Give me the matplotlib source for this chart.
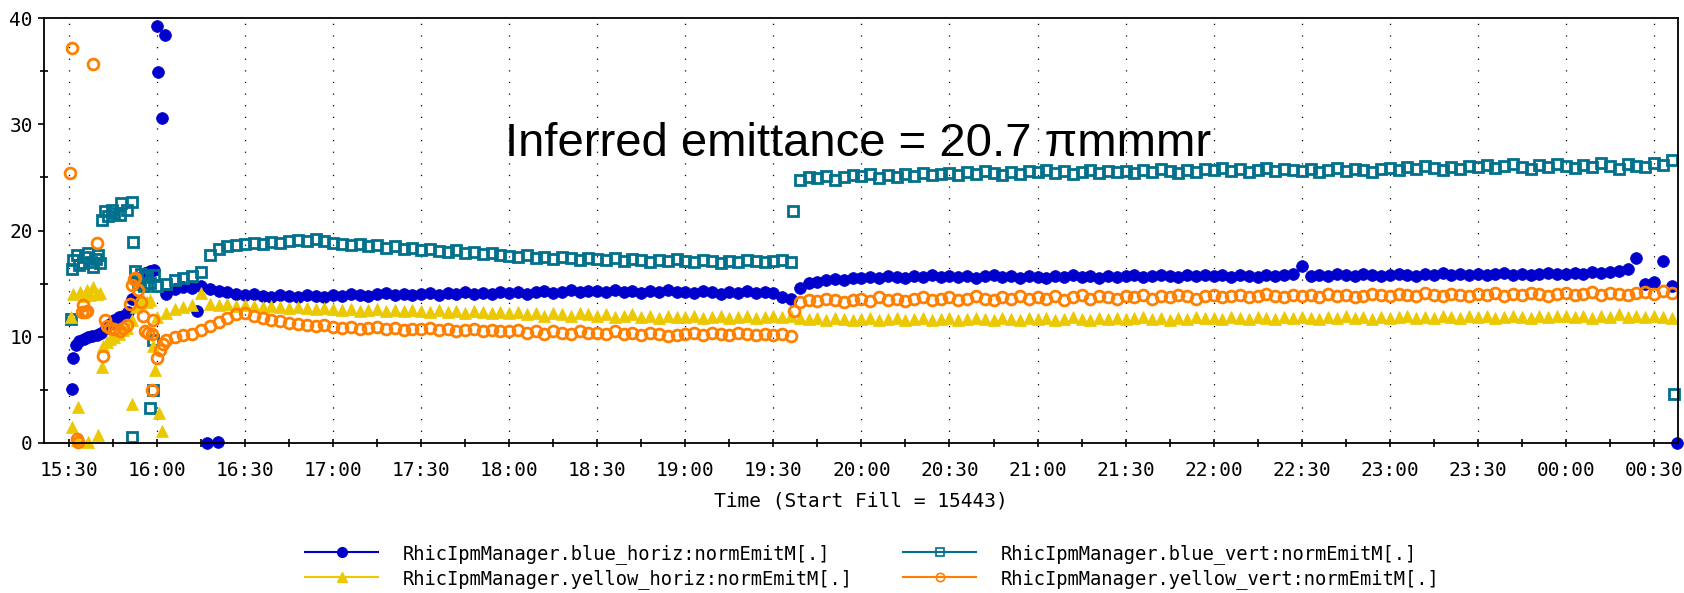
import matplotlib
matplotlib.use('Agg')
import matplotlib.pyplot as plt
from matplotlib.lines import Line2D
from matplotlib.ticker import MultipleLocator

# time axis in minutes after 15:30
tick_pos = [0, 30, 60, 90, 120, 150, 180, 210, 240, 270, 300, 330, 360, 390, 420, 450, 480, 510, 540]
tick_lab = ['15:30', '16:00', '16:30', '17:00', '17:30', '18:00', '18:30', '19:00', '19:30', '20:00',
            '20:30', '21:00', '21:30', '22:00', '22:30', '23:00', '23:30', '00:00', '00:30']

# regular logging after 16:03
t_main = [33, 36, 39, 42, 45, 48, 51, 54, 57,
          60, 63, 66, 69, 72, 75, 78, 81, 84, 87,
          90, 93, 96, 99, 102, 105, 108, 111, 114, 117,
          120, 123, 126, 129, 132, 135, 138, 141, 144, 147,
          150, 153, 156, 159, 162, 165, 168, 171, 174, 177,
          180, 183, 186, 189, 192, 195, 198, 201, 204, 207,
          210, 213, 216, 219, 222, 225, 228, 231, 234, 237,
          240, 243, 246, 249, 252, 255, 258, 261, 264, 267,
          270, 273, 276, 279, 282, 285, 288, 291, 294, 297,
          300, 303, 306, 309, 312, 315, 318, 321, 324, 327,
          330, 333, 336, 339, 342, 345, 348, 351, 354, 357,
          360, 363, 366, 369, 372, 375, 378, 381, 384, 387,
          390, 393, 396, 399, 402, 405, 408, 411, 414, 417,
          420, 423, 426, 429, 432, 435, 438, 441, 444, 447,
          450, 453, 456, 459, 462, 465, 468, 471, 474, 477,
          480, 483, 486, 489, 492, 495, 498, 501, 504, 507,
          510, 513, 516, 519, 522, 525, 528, 531, 534, 537,
          540, 543, 546]

# blue horizontal
t_bh_x = [1.1, 1.5, 2.5, 3.5, 5.0, 6.5, 8.0, 9.5, 11.0, 12.5, 14.0, 15.5, 17.0, 18.5, 20.0,
          21.5, 23.0, 24.5, 26.0, 27.5, 29.0, 29.9, 30.4, 31.8, 32.7, 43.5, 46.9, 50.8, 548.0]
v_bh_x = [5.1, 8.0, 9.2, 9.6, 9.8, 10.0, 10.1, 10.2, 10.4, 10.8, 11.2, 11.6, 11.9, 12.0, 12.3,
          13.6, 15.3, 15.6, 16.0, 16.2, 16.3, 39.2, 34.9, 30.6, 38.4, 12.4, 0.0, 0.1, 0.0]
v_bh = [14.0, 14.5, 14.7, 14.6, 14.8, 14.5, 14.3, 14.2, 14.0,
        13.9, 14.0, 13.8, 13.7, 13.9, 13.8, 13.7, 13.9, 13.8, 13.7,
        13.9, 13.8, 14.0, 13.9, 13.8, 14.0, 14.1, 13.9, 14.0, 13.9,
        14.0, 14.1, 13.9, 14.1, 14.0, 14.2, 14.0, 14.1, 14.0, 14.2,
        14.1, 14.2, 14.0, 14.2, 14.3, 14.1, 14.2, 14.4, 14.2, 14.3,
        14.3, 14.2, 14.4, 14.2, 14.3, 14.1, 14.3, 14.2, 14.4, 14.2,
        14.2, 14.1, 14.3, 14.2, 14.0, 14.2, 14.1, 14.3, 14.1, 14.2,
        14.1, 13.7, 13.6, 14.6, 15.1, 15.2, 15.3, 15.4, 15.3, 15.5,
        15.5, 15.6, 15.5, 15.7, 15.6, 15.5, 15.7, 15.6, 15.8, 15.6,
        15.7, 15.6, 15.7, 15.5, 15.7, 15.8, 15.6, 15.7, 15.5, 15.7,
        15.6, 15.5, 15.7, 15.6, 15.8, 15.6, 15.7, 15.5, 15.7, 15.6,
        15.7, 15.8, 15.6, 15.7, 15.8, 15.7, 15.6, 15.8, 15.7, 15.8,
        15.7, 15.8, 15.6, 15.8, 15.7, 15.6, 15.8, 15.7, 15.8, 15.9,
        16.7, 15.7, 15.8, 15.7, 15.9, 15.8, 15.7, 15.9, 15.8, 15.7,
        15.8, 15.9, 15.8, 15.7, 15.9, 15.8, 16.0, 15.8, 15.9, 15.8,
        15.9, 15.8, 15.9, 16.0, 15.8, 15.9, 15.8, 15.9, 16.0, 15.9,
        15.9, 16.0, 15.9, 16.1, 16.0, 16.1, 16.2, 16.4, 17.4, 15.0,
        15.2, 17.1, 14.8]

# blue vertical
t_bv_x = [0.6, 0.9, 1.5, 2.6, 3.5, 4.9, 5.5, 6.6, 7.5, 8.3, 9.2, 10.0, 10.6, 11.1, 12.3,
          13.2, 14.5, 15.5, 17.4, 17.6, 19.7, 21.4, 21.9, 21.4, 22.5, 23.5, 24.5, 25.5, 26.5,
          27.5, 27.6, 28.7, 28.7, 29.0, 30.0, 246.8, 547.0]
v_bv_x = [11.7, 16.4, 17.2, 17.7, 16.8, 16.9, 17.5, 17.9, 17.0, 16.6, 17.3, 17.7, 16.9, 21.0, 21.8,
          21.4, 21.9, 21.6, 21.5, 22.6, 21.9, 22.7, 18.9, 0.6, 16.2, 15.0, 15.9, 14.8, 15.6,
          15.1, 3.3, 5.0, 9.7, 15.8, 14.8, 21.8, 4.6]
v_bv = [15.0, 15.3, 15.5, 15.7, 16.1, 17.7, 18.3, 18.5, 18.6,
        18.7, 18.8, 18.7, 18.9, 18.8, 19.0, 19.1, 19.0, 19.2, 19.0,
        18.8, 18.7, 18.6, 18.7, 18.5, 18.6, 18.4, 18.5, 18.3, 18.4,
        18.2, 18.3, 18.1, 18.0, 18.2, 17.9, 18.0, 17.8, 17.9, 17.7,
        17.6, 17.5, 17.7, 17.4, 17.5, 17.3, 17.5, 17.4, 17.2, 17.4,
        17.3, 17.2, 17.4, 17.1, 17.3, 17.2, 17.0, 17.2, 17.1, 17.3,
        17.1, 17.0, 17.2, 17.1, 16.9, 17.1, 17.0, 17.2, 17.1, 17.0,
        17.1, 17.2, 17.0, 24.8, 25.0, 24.9, 25.1, 24.8, 25.0, 25.2,
        25.1, 25.3, 24.9, 25.2, 25.0, 25.3, 25.1, 25.4, 25.2, 25.3,
        25.4, 25.2, 25.5, 25.3, 25.6, 25.4, 25.2, 25.5, 25.3, 25.6,
        25.5, 25.7, 25.4, 25.6, 25.3, 25.5, 25.7, 25.4, 25.6, 25.5,
        25.6, 25.4, 25.7, 25.5, 25.8, 25.6, 25.4, 25.7, 25.5, 25.8,
        25.7, 25.9, 25.6, 25.8, 25.5, 25.7, 25.9, 25.6, 25.8, 25.7,
        25.6, 25.8, 25.5, 25.7, 25.9, 25.6, 25.8, 25.7, 25.5, 25.8,
        25.9, 25.7, 26.0, 25.8, 26.1, 25.9, 25.7, 26.0, 25.8, 26.1,
        26.0, 26.2, 25.9, 26.1, 26.3, 26.0, 25.8, 26.2, 26.0, 26.3,
        26.1, 25.9, 26.2, 26.0, 26.4, 26.1, 25.8, 26.3, 26.1, 26.0,
        26.4, 26.2, 26.6]

# yellow horizontal
t_yh_x = [0.6, 1.2, 1.5, 2.8, 3.2, 3.7, 5.0, 6.0, 6.6, 7.2, 8.3, 9.4, 10.0, 10.6, 11.1,
          11.5, 12.8, 14.0, 15.5, 17.0, 18.5, 19.7, 21.4, 21.5, 23.0, 24.2, 25.3, 26.5, 27.6,
          28.8, 29.3, 29.9, 30.8, 31.6]
v_yh_x = [11.9, 1.5, 14.0, 0.3, 3.4, 14.2, 13.8, 14.4, 0.1, 13.9, 14.7, 14.0, 0.75, 14.1, 7.2,
          9.1, 9.5, 9.8, 10.0, 10.3, 10.6, 10.8, 3.7, 11.6, 12.8, 13.2, 13.5, 13.3, 13.5,
          9.1, 6.9, 11.9, 2.8, 1.1]
v_yh = [12.2, 12.6, 12.8, 13.0, 14.1, 13.1, 13.0, 13.1, 12.9,
        13.0, 12.9, 12.8, 12.9, 12.8, 12.7, 12.8, 12.7, 12.6, 12.7,
        12.6, 12.5, 12.6, 12.4, 12.5, 12.6, 12.4, 12.5, 12.4, 12.5,
        12.4, 12.3, 12.5, 12.3, 12.4, 12.2, 12.4, 12.3, 12.2, 12.3,
        12.2, 12.3, 12.1, 12.2, 12.0, 12.2, 12.1, 12.0, 12.2, 12.1,
        12.0, 12.1, 11.9, 12.0, 12.1, 11.9, 12.0, 11.8, 12.0, 11.9,
        11.9, 12.0, 11.8, 11.9, 12.0, 11.8, 11.9, 12.0, 11.8, 11.9,
        12.0, 11.9, 12.0, 11.8, 11.7, 11.8, 11.6, 11.8, 11.7, 11.6,
        11.7, 11.8, 11.6, 11.7, 11.8, 11.6, 11.7, 11.8, 11.6, 11.7,
        11.8, 11.6, 11.7, 11.8, 11.7, 11.6, 11.8, 11.7, 11.6, 11.8,
        11.7, 11.8, 11.6, 11.7, 11.9, 11.7, 11.6, 11.8, 11.7, 11.8,
        11.7, 11.8, 11.9, 11.7, 11.8, 11.6, 11.8, 11.7, 11.9, 11.8,
        11.8, 11.7, 11.9, 11.8, 11.7, 11.9, 11.8, 11.7, 11.9, 11.8,
        11.9, 11.8, 11.7, 11.9, 11.8, 12.0, 11.8, 11.9, 11.7, 11.9,
        11.8, 11.9, 12.0, 11.8, 11.9, 11.8, 12.0, 11.9, 11.8, 12.0,
        11.9, 12.0, 11.8, 11.9, 12.0, 11.9, 11.8, 12.0, 11.9, 12.0,
        12.0, 11.9, 12.0, 11.8, 12.0, 11.9, 12.1, 11.9, 12.0, 11.9,
        12.0, 11.9, 11.8]

# yellow vertical
t_yv_x = [0.3, 0.9, 2.6, 3.0, 4.3, 4.9, 5.6, 6.3, 8.3, 9.4, 11.7, 12.3, 13.0, 14.0, 15.5,
          17.4, 18.5, 19.7, 20.8, 21.4, 22.0, 22.5, 23.6, 24.4, 25.3, 25.8, 27.0, 28.2, 28.2,
          28.7, 29.9, 31.0, 32.0, 247.0]
v_yv_x = [25.4, 37.2, 0.4, 0.1, 12.3, 13.0, 12.3, 12.4, 35.7, 18.8, 8.2, 11.6, 11.0, 10.8, 10.7,
          10.5, 10.8, 11.1, 13.1, 14.9, 15.4, 15.5, 14.4, 13.3, 12.0, 10.5, 10.4, 10.3, 5.0,
          11.6, 8.0, 8.75, 9.3, 12.45]
v_yv = [9.7, 10.0, 10.2, 10.3, 10.6, 11.0, 11.4, 11.8, 12.1,
        12.2, 12.0, 11.8, 11.6, 11.5, 11.3, 11.2, 11.1, 11.0, 11.1,
        10.9, 10.8, 10.9, 10.7, 10.8, 10.9, 10.7, 10.8, 10.6, 10.7,
        10.7, 10.8, 10.6, 10.7, 10.5, 10.6, 10.7, 10.5, 10.6, 10.5,
        10.5, 10.6, 10.4, 10.5, 10.3, 10.5, 10.4, 10.3, 10.5, 10.4,
        10.4, 10.3, 10.5, 10.3, 10.4, 10.2, 10.4, 10.3, 10.1, 10.2,
        10.3, 10.4, 10.2, 10.4, 10.3, 10.2, 10.4, 10.3, 10.2, 10.3,
        10.2, 10.3, 10.1, 13.3, 13.5, 13.4, 13.6, 13.5, 13.3, 13.5,
        13.6, 13.4, 13.7, 13.5, 13.6, 13.4, 13.6, 13.7, 13.5, 13.6,
        13.7, 13.5, 13.6, 13.8, 13.6, 13.5, 13.7, 13.6, 13.8, 13.6,
        13.7, 13.6, 13.8, 13.5, 13.7, 13.9, 13.6, 13.8, 13.7, 13.6,
        13.8, 13.7, 13.9, 13.6, 13.8, 13.7, 13.9, 13.8, 13.6, 13.8,
        13.9, 13.7, 13.8, 13.9, 13.7, 13.8, 14.0, 13.8, 13.7, 13.9,
        13.8, 13.9, 13.7, 14.0, 13.8, 13.9, 13.7, 13.8, 14.0, 13.9,
        13.8, 14.0, 13.9, 13.8, 14.1, 13.9, 13.8, 14.0, 13.9, 13.8,
        14.0, 13.9, 14.1, 13.8, 14.0, 13.9, 14.1, 14.0, 13.8, 14.0,
        14.1, 13.9, 14.0, 14.2, 13.9, 14.1, 14.0, 13.9, 14.1, 14.2,
        14.0, 14.3, 14.1]

names = ['RhicIpmManager.blue_horiz:normEmitM[.]', 'RhicIpmManager.blue_vert:normEmitM[.]',
         'RhicIpmManager.yellow_horiz:normEmitM[.]', 'RhicIpmManager.yellow_vert:normEmitM[.]']
c_bh, c_bv, c_yh, c_yv = '#0000CC', '#00708C', '#EBC800', '#FF8000'

plt.rcParams['font.family'] = 'DejaVu Sans Mono'

fig = plt.figure(figsize=(16.84, 5.93), dpi=100)
ax = fig.add_axes([44 / 1684, 1 - 443 / 593, 1634 / 1684, 425 / 593])

kw = dict(ls='none', clip_on=False)
ax.plot(t_bh_x + t_main, v_bh_x + v_bh, marker='o', ms=8.5, mfc=c_bh, mec=c_bh, mew=0.5, color=c_bh, **kw)
ax.plot(t_bv_x + t_main, v_bv_x + v_bv, marker='s', ms=7.6, mfc='none', mec=c_bv, mew=2.0, color=c_bv, **kw)
ax.plot(t_yh_x + t_main, v_yh_x + v_yh, marker='^', ms=9.2, mfc=c_yh, mec=c_yh, mew=0.5, color=c_yh, **kw)
ax.plot(t_yv_x + t_main, v_yv_x + v_yv, marker='o', ms=7.8, mfc='none', mec=c_yv, mew=2.0, color=c_yv, **kw)

ax.set_xlim(-8.5, 548.2)
ax.set_ylim(0, 40)
ax.set_xticks(tick_pos)
ax.set_xticklabels(tick_lab)
ax.xaxis.set_minor_locator(MultipleLocator(15))
ax.yaxis.set_major_locator(MultipleLocator(10))
ax.yaxis.set_minor_locator(MultipleLocator(5))
ax.tick_params(axis='x', which='both', direction='inout', length=6, width=1.2, labelsize=14, pad=10)
ax.tick_params(axis='y', which='major', direction='out', length=4, width=1.2, labelsize=14, pad=4)
ax.tick_params(axis='y', which='minor', direction='inout', length=6, width=1.2)
for s in ax.spines.values():
    s.set_linewidth(1.3)
ax.grid(axis='x', which='major', color='black', lw=0.9, ls=(0, (1, 8.3)))
ax.set_xlabel('Time (Start Fill = 15443)', fontsize=14, labelpad=8)

ax.text(148.6, 27.0, 'Inferred emittance = 20.7 \u03c0mmmr', fontsize=34,
        family=['Liberation Sans', 'DejaVu Sans'], va='baseline', ha='left')

handles = [
    Line2D([], [], color=c_bh, lw=1.5, marker='o', ms=7, mfc=c_bh, mec=c_bh),
    Line2D([], [], color=c_yh, lw=1.5, marker='^', ms=7.5, mfc=c_yh, mec=c_yh),
    Line2D([], [], color=c_bv, lw=1.5, marker='s', ms=6, mfc='none', mec=c_bv, mew=1.2),
    Line2D([], [], color=c_yv, lw=1.5, marker='o', ms=6, mfc='none', mec=c_yv, mew=1.2),
]
labels = [names[0], names[2], names[1], names[3]]
fig.legend(handles, labels, loc='center', bbox_to_anchor=(0.518, 0.045), ncol=2, frameon=False,
           fontsize=13.5, handlelength=3.9, handletextpad=1.3, columnspacing=2.7,
           labelspacing=0.28, borderpad=0)

fig.savefig('out.png', dpi=100)
